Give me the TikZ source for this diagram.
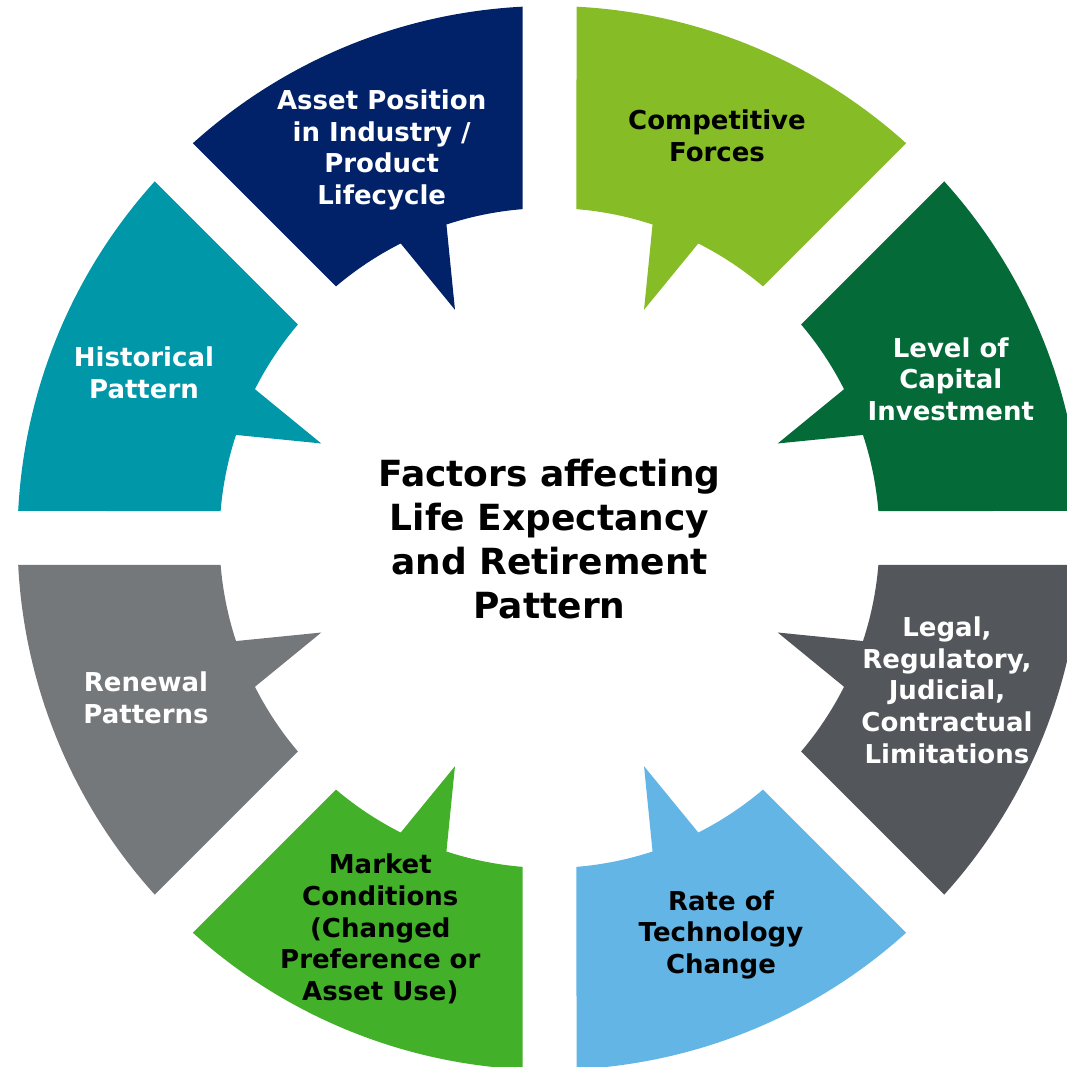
\documentclass[tikz,border=0pt]{standalone}
\usepackage{fontspec}
\setmainfont{DejaVu Sans}
\definecolor{cNavy}{RGB}{1,33,105}
\definecolor{cLime}{RGB}{134,188,37}
\definecolor{cDkGreen}{RGB}{4,106,56}
\definecolor{cDkGray}{RGB}{83,86,90}
\definecolor{cLtBlue}{RGB}{98,181,229}
\definecolor{cGreen}{RGB}{67,176,42}
\definecolor{cGray}{RGB}{117,120,123}
\definecolor{cTeal}{RGB}{0,151,169}
\newcommand\ringseg[2]{%
  \pgfmathsetmacro\segSa{#1+2.91}%
  \pgfmathsetmacro\segSb{#1+45-2.91}%
  \pgfmathsetmacro\segIa{#1+45-4.693}%
  \pgfmathsetmacro\segIb{#1+22.5+4.3}%
  \pgfmathsetmacro\segIc{#1+22.5}%
  \pgfmathsetmacro\segId{#1+22.5-4.3}%
  \pgfmathsetmacro\segIe{#1+4.693}%
  \fill[#2] (\segSa:532pt) arc[start angle=\segSa, end angle=\segSb, radius=532pt]
    -- (\segIa:330pt) arc[start angle=\segIa, end angle=\segIb, radius=330pt]
    -- (\segIc:247pt) -- (\segId:330pt)
    arc[start angle=\segId, end angle=\segIe, radius=330pt] -- cycle;}
\begin{document}
\begin{tikzpicture}[x=1pt,y=1pt,
  lbl/.style={font=\fontsize{26}{31.7}\selectfont\bfseries, align=center, inner sep=0pt},
  ttl/.style={font=\fontsize{36}{44}\selectfont\bfseries, align=center, inner sep=0pt}]
\useasboundingbox (-549.5,-529) rectangle (516.5,538);
\ringseg{0}{cDkGreen}
\ringseg{45}{cLime}
\ringseg{90}{cNavy}
\ringseg{135}{cTeal}
\ringseg{180}{cGray}
\ringseg{225}{cGreen}
\ringseg{270}{cLtBlue}
\ringseg{315}{cDkGray}
\node[lbl, text=white] (asset) at (-167.8,388.1) {Asset Position\\in Industry /\\Product\\Lifecycle};
\node[lbl, text=black] (comp) at (167.5,402) {Competitive\\Forces};
\node[lbl, text=white] (level) at (401.3,158.9) {Level of\\Capital\\Investment};
\node[lbl, text=white] (legal) at (397.5,-152.1) {Legal,\\Regulatory,\\Judicial,\\Contractual\\Limitations};
\node[lbl, text=black] (rate) at (171.5,-396.7) {Rate of\\Technology\\Change};
\node[lbl, text=black] (market) at (-169.2,-391) {Market\\Conditions\\(Changed\\Preference or\\Asset Use)};
\node[lbl, text=white] (renewal) at (-403.5,-160.1) {Renewal\\Patterns};
\node[lbl, text=white] (hist) at (-405.5,165.1) {Historical\\Pattern};
\node[ttl, text=black] (title) at (0,-1) {Factors affecting\\Life Expectancy\\and Retirement\\Pattern};
\end{tikzpicture}
\end{document}
